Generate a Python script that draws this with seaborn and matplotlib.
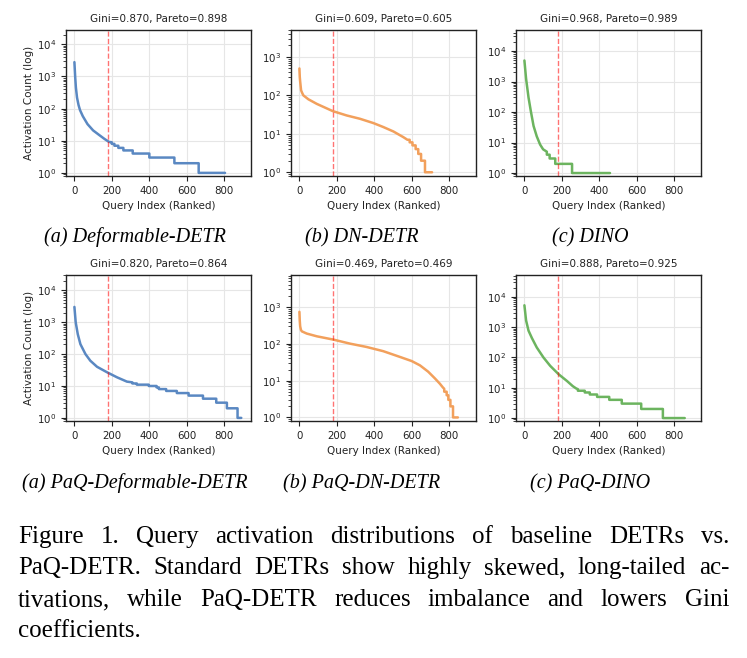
import matplotlib
matplotlib.use("Agg")
import matplotlib.pyplot as plt
import seaborn as sns

# ranked activation counts; a repeated rank is a step drop
def_detr_rank = [0, 4, 8, 14, 22, 30, 45, 70, 100, 130, 160, 185, 200, 200, 214, 214, 235, 235,
                 262, 262, 312, 312, 401, 401, 535, 535, 665, 665, 806]
def_detr_count = [2800, 1000, 450, 220, 130, 90, 58, 33, 21, 15.5, 11.5, 9.2, 9, 8, 8, 7, 7, 6,
                  6, 5, 5, 4, 4, 3, 3, 2, 2, 1, 1]

dn_detr_rank = [0, 2, 4, 9, 15, 21, 48, 93, 137, 178, 253, 324, 396, 449, 503, 556, 578, 590, 590,
                605, 605, 622, 622, 636, 636, 651, 651, 672, 672, 710]
dn_detr_count = [500, 300, 230, 135, 115, 100, 79, 60, 48, 39, 30, 24.6, 19, 15, 11.5, 8.2, 7, 7, 6,
                 6, 5, 5, 4, 4, 3, 3, 2, 2, 1, 1]

dino_rank = [0, 9, 22, 34, 49, 66, 84, 100, 120, 120, 135, 135, 165, 165, 255, 255, 458]
dino_count = [4900, 1230, 300, 110, 35, 16, 8.6, 6, 5, 4, 4, 3, 3, 2, 2, 1, 1]

paq_def_rank = [0, 7, 18, 32, 59, 85, 121, 174, 228, 281, 310, 310, 334, 334, 398, 398, 440, 440,
                452, 452, 491, 491, 548, 548, 611, 611, 688, 688, 759, 759, 816, 816, 873, 873, 893]
paq_def_count = [3000, 980, 420, 205, 100, 62, 40, 27, 18.7, 13.7, 13, 12, 12, 11, 11, 10, 10, 9,
                 9, 8, 8, 7, 7, 6, 6, 5, 5, 4, 4, 3, 3, 2, 2, 1, 1]

paq_dn_rank = [0, 2, 4, 8, 13, 39, 93, 182, 271, 360, 449, 538, 601, 645, 689, 725, 752, 768, 775,
               775, 788, 788, 797, 797, 808, 808, 822, 822, 848]
paq_dn_count = [740, 420, 300, 240, 218, 190, 160, 130, 101, 82, 63, 44, 34, 26, 17.5, 11.5, 8.2, 6.5, 6,
                5, 5, 4, 4, 3, 3, 2, 2, 1, 1]

paq_dino_rank = [0, 9, 22, 40, 66, 102, 138, 183, 228, 259, 277, 286, 286, 323, 323, 350, 350,
                 389, 389, 454, 454, 521, 521, 625, 625, 741, 741, 858]
paq_dino_count = [5300, 1670, 770, 440, 215, 100, 53, 28, 16.7, 11.3, 9.5, 9, 8, 8, 7, 7, 6,
                  6, 5, 5, 4, 4, 3, 3, 2, 2, 1, 1]

titles = ["Gini=0.870, Pareto=0.898", "Gini=0.609, Pareto=0.605", "Gini=0.968, Pareto=0.989",
          "Gini=0.820, Pareto=0.864", "Gini=0.469, Pareto=0.469", "Gini=0.888, Pareto=0.925"]
subcaptions = ["(a) Deformable-DETR", "(b) DN-DETR", "(c) DINO",
               "(a) PaQ-Deformable-DETR", "(b) PaQ-DN-DETR", "(c) PaQ-DINO"]
cutoff = 180

caption_lines = [
    "Figure 1.  Query activation distributions of baseline DETRs vs.",
    "PaQ-DETR. Standard DETRs show highly skewed, long-tailed ac-",
    "tivations, while PaQ-DETR reduces imbalance and lowers Gini",
    "coefficients.",
]

series = [(def_detr_rank, def_detr_count), (dn_detr_rank, dn_detr_count), (dino_rank, dino_count),
          (paq_def_rank, paq_def_count), (paq_dn_rank, paq_dn_count), (paq_dino_rank, paq_dino_count)]
colors = ["#5a88c2", "#f2a05c", "#6cb45f"]

sns.set_theme(style="ticks")
plt.rcParams["font.family"] = ["DejaVu Sans"]

W, H = 747, 658
fig = plt.figure(figsize=(W / 100, H / 100), dpi=100)

lefts = [66, 291, 516]
tops = [30, 275]
aw, ah = 185, 146

for i, (rank, count) in enumerate(series):
    row, col = divmod(i, 3)
    ax = fig.add_axes([lefts[col] / W, 1 - (tops[row] + ah) / H, aw / W, ah / H])
    sns.lineplot(x=rank, y=count, ax=ax, color=colors[col], lw=1.8, sort=False,
                 estimator=None, errorbar=None)
    ax.axvline(cutoff, color="red", ls="--", lw=1.0, alpha=0.55)
    ax.set_yscale("log")
    ax.set_ylim(0.8, max(count) * 10)
    ax.set_xlim(-45, 945)
    ax.set_xticks([0, 200, 400, 600, 800])
    ax.grid(True, which="major", color="#e6e6e6", lw=0.8)
    ax.set_axisbelow(True)
    for s in ax.spines.values():
        s.set_color("#222222")
        s.set_linewidth(1.0)
    ax.tick_params(labelsize=7.4, colors="#222222", length=3.5, width=0.8)
    ax.tick_params(which="minor", length=2, width=0.6)
    ax.set_title(titles[i], fontsize=7.5, color="#222222", pad=6)
    ax.set_xlabel("Query Index (Ranked)", fontsize=7.5, color="#222222")
    if col == 0:
        ax.set_ylabel("Activation Count (log)", fontsize=7.5, color="#222222", labelpad=2)
    else:
        ax.set_ylabel("")

sub_x = [135, 362, 590]
sub_y = [242, 488]
for i, txt in enumerate(subcaptions):
    row, col = divmod(i, 3)
    fig.text(sub_x[col] / W, 1 - sub_y[row] / H, txt, ha="center", va="baseline",
             fontsize=14.5, style="italic", family="Liberation Serif", color="black")

# justified caption
cap_left, cap_right = 18, 729
cap_base = [543, 574, 606, 637]
cap_size = 18
fig.canvas.draw()
renderer = fig.canvas.get_renderer()
space = 0.25 * cap_size * 100 / 72
for i, line in enumerate(caption_lines):
    words = line.split()
    arts = [fig.text(0, 1 - cap_base[i] / H, w, fontsize=cap_size, family="Liberation Serif",
                     va="baseline", ha="left", color="black") for w in words]
    widths = [a.get_window_extent(renderer).width for a in arts]
    if i < len(caption_lines) - 1 and len(words) > 1:
        gap = (cap_right - cap_left - sum(widths)) / (len(words) - 1)
    else:
        gap = space
    x = cap_left
    for a, w in zip(arts, widths):
        a.set_x(x / W)
        x += w + gap

fig.savefig("out.png", dpi=100)
